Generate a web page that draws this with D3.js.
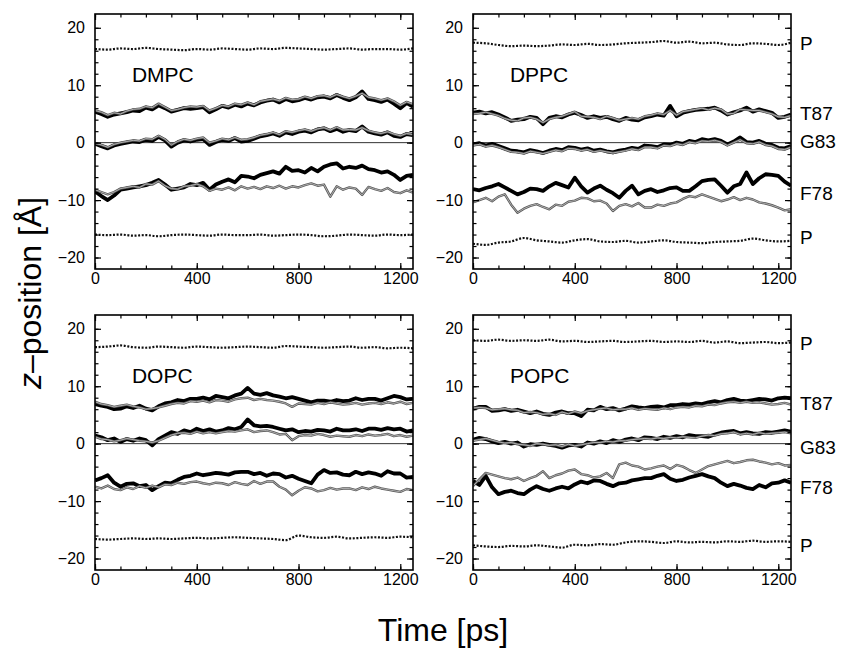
<!DOCTYPE html>
<html><head><meta charset="utf-8">
<script src="https://cdn.jsdelivr.net/npm/d3@7"></script>
<style>body{margin:0;background:#fff}svg{display:block}</style>
</head><body><svg id="c" width="846" height="648"></svg>
<script>
// ---------- data (z-position in Å, every 25 ps for residues, every 50 ps for P) ----------
const times = d3.range(0, 1251, 25);
const timesP = d3.range(0, 1251, 50);
const xTickLabels = [0, 400, 800, 1200];
const yTickLabels = [-20, -10, 0, 10, 20];
const panelNames = ["DMPC", "DPPC", "DOPC", "POPC"];
const rightLabels = ["P", "T87", "G83", "F78", "P"];

// DMPC
const dmpcPtop = [16.3,16.2,16.4,16.3,16.5,16.3,16.2,16.1,16.3,16.2,16.4,16.3,16.2,16.4,16.3,16.5,16.4,16.3,16.2,16.3,16.4,16.2,16.3,16.3,16.2,16.4];
const dmpcPbot = [-16.0,-16.1,-16.0,-16.2,-16.1,-16.3,-16.1,-16.0,-16.1,-16.2,-16.0,-16.1,-16.1,-16.0,-16.2,-16.1,-16.0,-16.1,-16.3,-16.2,-16.0,-16.1,-16.2,-16.0,-16.1,-16.0];
const dmpcT87 = [5.4,5.0,4.5,4.9,5.1,5.3,5.6,5.5,6.1,5.8,6.5,6.0,5.4,5.7,6.0,5.9,6.0,6.2,5.3,5.8,6.4,6.1,6.6,6.3,6.8,6.5,7.0,7.3,7.5,7.0,7.6,7.2,7.4,7.8,7.5,7.9,8.0,7.7,8.3,7.8,7.4,7.9,8.9,7.6,7.4,7.1,7.5,6.8,6.0,6.9,6.3];
const dmpcT87g = [5.6,5.3,4.8,5.2,5.0,5.5,5.8,5.9,6.3,6.1,6.8,6.2,5.6,5.8,6.1,6.3,6.2,6.4,5.6,6.0,6.5,6.3,6.8,6.6,7.0,6.6,7.2,7.4,7.6,7.3,7.8,7.5,7.6,8.0,7.7,8.1,8.2,7.9,8.4,8.0,7.7,8.1,8.6,7.9,7.7,7.4,7.7,7.2,6.5,7.1,6.7];
const dmpcG83 = [-0.2,-0.6,-1.0,-0.5,-0.2,0.0,0.2,0.1,0.5,0.3,1.0,0.4,-0.7,0.0,0.4,0.2,0.5,0.6,-0.4,0.1,0.5,0.3,0.8,0.2,0.3,0.7,1.1,1.3,1.6,1.2,1.8,1.5,1.9,2.1,1.8,2.3,2.5,2.0,2.4,1.9,2.2,2.0,2.8,1.9,1.6,1.4,1.8,1.2,1.0,1.5,1.3];
const dmpcG83g = [-0.1,-0.4,-0.8,-0.3,0.0,0.2,0.4,0.3,0.7,0.6,1.2,0.6,-0.4,0.2,0.6,0.4,0.7,0.9,0.0,0.3,0.7,0.5,0.9,0.5,0.6,0.9,1.3,1.5,1.8,1.4,2.0,1.8,2.1,2.3,2.0,2.4,2.6,2.2,2.7,2.2,2.3,2.2,2.6,2.1,1.8,1.6,1.9,1.5,1.2,1.6,1.4];
const dmpcF78 = [-8.5,-9.3,-10.0,-9.2,-8.2,-8.0,-7.8,-7.6,-7.4,-7.0,-6.5,-7.3,-8.2,-8.0,-7.8,-7.2,-7.4,-7.0,-8.2,-7.3,-6.8,-6.4,-6.9,-5.8,-5.9,-6.2,-5.6,-5.3,-5.0,-5.4,-4.2,-4.9,-4.8,-5.2,-4.4,-5.0,-4.2,-3.8,-3.6,-4.5,-4.2,-4.4,-4.0,-4.6,-4.8,-5.2,-5.0,-5.6,-6.5,-5.8,-5.6];
const dmpcF78g = [-8.2,-8.6,-9.0,-8.6,-8.0,-7.8,-7.6,-7.8,-7.2,-7.3,-6.7,-7.5,-8.0,-8.1,-7.6,-7.5,-7.2,-7.6,-8.4,-8.0,-8.2,-7.8,-8.3,-7.6,-8.0,-7.7,-8.1,-7.6,-7.9,-7.5,-8.0,-7.6,-7.8,-7.4,-7.1,-7.5,-7.3,-9.4,-7.6,-8.2,-7.8,-8.0,-9.1,-7.7,-8.1,-8.4,-7.9,-8.6,-8.8,-8.3,-8.7];
// DPPC
const dppcPtop = [17.4,17.3,17.0,16.8,16.9,16.8,16.9,17.1,17.0,17.2,17.0,17.1,17.3,17.4,17.5,17.7,17.4,17.6,17.3,17.4,17.1,17.0,17.3,17.2,17.0,17.4];
const dppcPbot = [-17.6,-17.8,-17.4,-17.2,-16.6,-17.0,-17.2,-17.4,-17.0,-16.8,-17.2,-17.3,-17.1,-17.4,-17.2,-17.0,-17.3,-17.4,-17.5,-17.3,-17.2,-17.1,-16.7,-17.0,-17.2,-17.1];
const dppcT87 = [5.2,5.4,5.1,5.3,4.9,4.4,3.8,4.0,4.1,4.5,4.3,3.2,4.3,4.6,4.4,4.9,5.2,4.8,4.3,4.6,4.3,4.5,4.1,3.8,4.3,4.0,3.9,4.4,4.6,4.9,4.7,6.4,4.6,5.2,5.5,5.7,5.8,5.9,6.1,5.6,4.9,5.3,5.6,6.1,5.4,5.8,5.5,5.2,4.3,4.5,4.9];
const dppcT87g = [5.0,5.1,5.3,5.0,4.7,4.2,3.9,3.8,4.3,4.4,4.1,3.5,4.1,4.4,4.6,5.0,5.4,4.6,4.5,4.4,4.1,4.6,4.3,3.9,4.1,4.3,4.1,4.6,4.8,5.1,4.9,5.6,4.8,5.4,5.6,5.8,6.0,5.7,6.0,5.8,5.0,5.1,5.8,5.7,5.6,5.6,5.3,5.0,4.5,4.4,4.7];
const dppcG83 = [-0.3,-0.1,-0.5,-0.2,-0.6,-1.0,-1.4,-1.5,-1.7,-1.3,-1.5,-1.8,-1.4,-1.1,-1.3,-0.8,-0.9,-1.2,-1.0,-1.4,-1.2,-1.5,-1.7,-1.4,-1.2,-0.9,-1.1,-0.5,-0.6,-0.8,-0.3,-0.4,0.0,-0.2,0.3,0.1,0.6,0.4,0.6,0.3,-0.3,0.2,0.9,0.1,0.0,0.3,-0.2,-0.4,-0.9,-1.0,-0.6];
const dppcG83g = [-0.5,-0.3,-0.7,-0.5,-0.8,-1.2,-1.6,-1.7,-1.9,-1.5,-1.7,-1.9,-1.6,-1.3,-1.5,-1.0,-1.1,-1.4,-1.2,-1.6,-1.4,-1.6,-1.8,-1.6,-1.4,-1.1,-1.3,-0.8,-0.8,-1.0,-0.5,-0.6,-0.2,-0.4,0.1,-0.1,0.3,0.2,0.4,0.1,-0.5,0.0,0.5,-0.1,-0.2,0.1,-0.4,-0.6,-1.1,-1.2,-0.8];
const dppcF78 = [-8.1,-8.3,-7.9,-7.6,-7.2,-7.8,-8.4,-9.0,-8.6,-8.0,-8.1,-8.4,-7.6,-7.0,-7.4,-7.8,-6.1,-7.6,-8.7,-8.0,-7.5,-8.2,-8.8,-9.6,-8.4,-7.5,-9.0,-8.4,-8.1,-8.6,-8.3,-7.9,-7.8,-8.4,-8.4,-7.6,-6.7,-6.5,-6.4,-7.5,-8.7,-7.6,-7.2,-5.2,-7.2,-6.2,-5.5,-5.6,-5.8,-6.8,-7.5];
const dppcF78g = [-10.4,-10.0,-9.6,-10.2,-9.4,-9.0,-10.8,-12.2,-11.5,-11.0,-10.7,-11.2,-11.6,-10.8,-11.0,-10.3,-10.1,-9.6,-9.7,-10.2,-10.1,-10.6,-11.9,-11.0,-10.7,-11.1,-10.5,-11.3,-11.3,-10.8,-11.0,-10.6,-10.4,-9.8,-9.3,-9.5,-9.0,-9.4,-9.8,-10.2,-9.9,-9.5,-10.0,-9.6,-9.9,-10.4,-10.6,-10.9,-11.3,-11.8,-11.6];
// DOPC
const dopcPtop = [16.8,16.9,17.1,16.8,16.7,16.9,16.8,16.7,16.9,16.8,16.7,16.8,16.9,16.8,16.7,17.0,16.9,16.8,16.7,16.8,16.9,16.7,16.8,16.6,16.7,16.6];
const dopcPbot = [-16.6,-16.7,-16.6,-16.5,-16.6,-16.5,-16.6,-16.5,-16.4,-16.5,-16.4,-16.3,-16.4,-16.5,-16.6,-16.8,-16.0,-16.3,-16.4,-16.2,-16.5,-16.4,-16.3,-16.4,-16.2,-16.3];
const dopcT87 = [6.9,6.6,6.4,6.0,6.1,6.5,6.2,6.6,6.1,5.8,6.5,7.0,7.2,7.6,7.4,7.8,7.8,8.0,7.7,8.3,8.1,7.9,8.4,8.7,9.7,8.7,8.5,8.8,8.4,8.2,7.9,8.1,7.8,7.5,7.2,7.5,7.5,7.3,7.6,7.4,7.5,7.9,7.6,7.8,7.8,7.5,7.9,8.3,8.1,7.7,7.8];
const dopcT87g = [7.3,6.9,6.7,6.4,6.6,6.8,6.5,6.3,6.0,6.1,6.3,6.6,6.9,7.1,7.0,7.4,7.3,7.5,7.2,7.6,7.5,7.3,7.7,7.9,8.0,7.6,7.8,7.6,7.5,7.3,7.0,6.4,7.0,6.9,6.8,7.1,6.9,7.2,7.0,6.8,6.9,7.1,6.8,7.0,7.1,6.9,7.2,7.0,7.3,6.9,7.1];
const dopcG83 = [1.4,1.1,0.6,0.9,0.3,0.8,0.5,0.9,0.6,-0.3,0.8,1.4,2.0,1.7,2.3,2.0,2.6,2.2,2.5,2.1,2.3,2.7,2.5,2.9,4.2,3.2,3.0,3.1,2.9,2.6,2.3,2.5,2.0,2.2,2.1,2.4,2.3,2.1,2.6,2.3,2.3,2.5,2.2,2.6,2.6,2.4,2.7,2.5,2.6,2.1,2.3];
const dopcG83g = [1.2,0.8,0.7,0.4,0.6,0.9,0.7,0.5,0.4,0.2,0.5,1.0,1.5,1.8,1.9,1.7,2.1,1.8,2.0,1.8,2.0,2.2,2.1,2.3,2.5,2.0,2.2,2.3,2.0,1.6,1.7,0.6,1.3,1.5,1.4,1.7,1.5,1.2,1.4,1.3,1.2,1.5,1.3,1.6,1.4,1.5,1.7,1.3,1.5,1.2,1.4];
const dopcF78 = [-6.4,-6.0,-5.5,-6.8,-7.5,-7.0,-6.9,-7.4,-7.2,-8.1,-7.4,-6.8,-6.9,-6.3,-5.8,-5.6,-5.2,-5.5,-5.3,-5.1,-5.2,-5.4,-5.0,-4.9,-4.9,-5.3,-5.1,-5.6,-5.2,-5.3,-5.9,-5.6,-6.1,-6.5,-6.9,-5.4,-4.6,-5.1,-5.0,-5.4,-5.5,-4.9,-5.3,-5.0,-5.2,-5.6,-4.8,-5.2,-5.2,-5.9,-5.8];
const dopcF78g = [-7.5,-7.8,-7.3,-7.9,-8.1,-7.6,-7.9,-7.4,-7.7,-7.3,-7.6,-7.1,-7.2,-6.8,-7.0,-6.7,-6.6,-6.9,-7.1,-6.8,-6.9,-7.2,-6.7,-7.0,-7.2,-6.5,-7.0,-6.6,-6.6,-7.5,-8.0,-9.0,-8.2,-7.6,-7.8,-8.3,-8.1,-7.7,-8.0,-7.8,-7.8,-8.1,-7.6,-7.9,-7.5,-7.8,-8.0,-8.2,-8.4,-7.9,-8.1];
// POPC
const popcPtop = [18.0,17.9,18.1,17.9,18.0,17.9,18.1,17.8,17.9,17.7,17.8,17.9,17.7,17.8,17.9,17.7,17.8,17.7,17.9,17.6,17.8,17.5,17.6,17.7,17.5,17.6];
const popcPbot = [-17.7,-17.9,-18.0,-17.8,-17.9,-17.7,-17.9,-18.1,-17.6,-17.7,-17.5,-17.6,-17.2,-17.0,-17.1,-17.3,-17.0,-17.2,-17.1,-17.2,-17.0,-17.1,-16.9,-17.1,-17.0,-17.1];
const popcT87 = [6.1,6.4,6.4,5.7,5.8,6.0,5.7,5.9,5.6,5.3,5.6,5.2,5.0,5.4,5.6,5.3,5.3,4.8,5.9,5.8,6.4,6.0,6.2,5.8,6.1,6.5,6.3,6.2,6.4,6.5,6.3,6.7,6.7,6.9,6.8,7.0,6.9,7.2,7.4,7.2,7.6,7.8,7.5,7.4,7.6,7.8,7.7,7.5,7.9,8.0,7.9];
const popcT87g = [6.2,6.3,6.2,5.9,6.0,6.1,5.9,5.8,5.4,5.5,5.4,5.1,5.2,5.0,5.5,5.2,5.6,5.3,5.7,5.9,6.1,6.2,5.9,6.0,6.0,6.2,5.9,6.1,6.0,5.9,6.2,6.0,6.3,6.4,6.3,6.6,6.5,6.8,6.7,7.0,7.2,7.3,7.1,7.3,7.1,7.2,7.0,6.8,6.9,7.1,6.8];
const popcG83 = [0.7,1.0,0.8,0.4,0.1,0.3,0.0,0.2,-0.5,-0.1,-0.2,0.0,-0.2,-0.4,-0.7,-0.3,-0.2,-0.5,0.2,0.0,0.4,0.1,0.6,0.3,0.7,0.9,0.6,1.1,1.0,0.8,1.2,1.0,1.3,1.1,1.5,1.3,1.3,1.2,1.6,1.9,2.1,2.2,1.8,2.0,1.8,1.7,2.0,1.9,2.1,2.3,2.1];
const popcG83g = [0.5,0.7,0.9,0.6,0.3,0.1,0.2,-0.1,-0.2,-0.4,0.0,-0.1,-0.3,-0.2,-0.5,-0.1,-0.4,-0.2,0.0,0.2,0.2,0.4,0.3,0.5,0.5,0.7,0.8,0.9,0.8,1.0,0.9,1.1,1.0,1.2,1.1,1.0,1.3,1.5,1.4,1.7,1.8,2.0,1.6,1.8,1.6,1.9,1.7,1.8,1.9,2.0,1.8];
const popcF78 = [-6.5,-7.2,-5.6,-7.6,-8.8,-8.4,-8.2,-8.6,-8.8,-8.0,-7.4,-7.9,-8.2,-7.8,-7.5,-7.8,-7.1,-6.6,-6.9,-6.4,-6.5,-7.0,-7.4,-6.9,-6.8,-6.4,-6.2,-6.0,-6.0,-5.6,-5.3,-6.1,-6.5,-6.3,-5.9,-5.6,-5.3,-5.7,-6.0,-6.8,-7.4,-7.0,-7.3,-7.7,-7.9,-7.2,-7.6,-6.9,-6.8,-6.4,-6.8];
const popcF78g = [-7.4,-6.2,-5.1,-5.4,-5.7,-6.0,-6.2,-5.9,-6.5,-6.0,-5.6,-4.8,-6.0,-5.5,-5.2,-4.7,-4.5,-5.3,-5.5,-5.9,-5.7,-5.1,-6.0,-3.6,-3.3,-3.8,-4.0,-4.5,-4.3,-4.0,-3.8,-4.4,-3.7,-4.0,-4.6,-5.1,-4.5,-3.9,-3.6,-3.3,-3.0,-3.4,-3.2,-2.9,-2.8,-3.1,-3.3,-3.6,-3.4,-3.8,-3.7];

// label value positions (data units) for right-hand labels
const rightLabelValsTop = [17.4, 5.2, 0.2, -8.8, -16.5];
const rightLabelValsBot = [17.5, 7.1, -0.6, -7.5, -17.7];

// ---------- layout ----------
const panels = [
  {name: panelNames[0], x0: 95,  y0: 14,  P: [dmpcPtop, dmpcPbot], black: [dmpcT87, dmpcG83, dmpcF78], gray: [dmpcT87g, dmpcG83g, dmpcF78g], right: null},
  {name: panelNames[1], x0: 473, y0: 14,  P: [dppcPtop, dppcPbot], black: [dppcT87, dppcG83, dppcF78], gray: [dppcT87g, dppcG83g, dppcF78g], right: rightLabelValsTop},
  {name: panelNames[2], x0: 95,  y0: 315, P: [dopcPtop, dopcPbot], black: [dopcT87, dopcG83, dopcF78], gray: [dopcT87g, dopcG83g, dopcF78g], right: null},
  {name: panelNames[3], x0: 473, y0: 315, P: [popcPtop, popcPbot], black: [popcT87, popcG83, popcF78], gray: [popcT87g, popcG83g, popcF78g], right: rightLabelValsBot}
];
const PW = 318, PH = 255;
const FONT = "'Liberation Sans', Arial, Helvetica, sans-serif";
const svg = d3.select("#c");

panels.forEach(p => {
  const x = d3.scaleLinear().domain([0, 1250]).range([p.x0, p.x0 + PW]);
  const y = d3.scaleLinear().domain([-22, 22.4]).range([p.y0 + PH, p.y0]);
  const g = svg.append("g");
  const clipId = "clip" + p.name;
  svg.append("clipPath").attr("id", clipId).append("rect")
    .attr("x", p.x0).attr("y", p.y0).attr("width", PW).attr("height", PH);
  const plot = g.append("g").attr("clip-path", `url(#${clipId})`);

  // zero line
  plot.append("line").attr("x1", x(0)).attr("x2", x(1250)).attr("y1", y(0)).attr("y2", y(0))
    .attr("stroke", "#333").attr("stroke-width", 1);

  const line = d3.line().x((d, i) => x(times[i])).y(d => y(d)).curve(d3.curveLinear);
  const lineP = d3.line().x((d, i) => x(timesP[i])).y(d => y(d)).curve(d3.curveMonotoneX);

  // phosphate dotted lines
  p.P.forEach(s => {
    plot.append("path").attr("d", lineP(s)).attr("fill", "none")
      .attr("stroke", "#111").attr("stroke-width", 2.2).attr("stroke-dasharray", "2,1.6");
  });
  // black thick
  p.black.forEach(s => {
    plot.append("path").attr("d", line(s)).attr("fill", "none")
      .attr("stroke", "#000").attr("stroke-width", 3.8).attr("stroke-linejoin", "round");
  });
  // gray hollow-ish thin lines
  p.gray.forEach(s => {
    plot.append("path").attr("d", line(s)).attr("fill", "none")
      .attr("stroke", "#585858").attr("stroke-width", 2.4).attr("stroke-linejoin", "round");
    plot.append("path").attr("d", line(s)).attr("fill", "none")
      .attr("stroke", "#c4c4c4").attr("stroke-width", 0.8).attr("stroke-linejoin", "round");
  });

  // axes (ticks pointing inward on all four sides)
  const styleAxis = sel => {
    sel.select(".domain").remove();
    sel.selectAll("line").attr("stroke", "#000").attr("stroke-width", 1.2);
    sel.selectAll("text").attr("font-family", FONT).attr("font-size", 16).attr("fill", "#000");
  };
  const minorX = d3.range(0, 1251, 100), minorY = d3.range(-20, 21, 2);
  // bottom
  g.append("g").attr("transform", `translate(0,${p.y0 + PH})`)
    .call(d3.axisBottom(x).tickValues(minorX).tickSize(-3.5).tickFormat("")).call(styleAxis);
  g.append("g").attr("transform", `translate(0,${p.y0 + PH})`)
    .call(d3.axisBottom(x).tickValues(xTickLabels).tickSize(-6).tickPadding(4).tickFormat(d3.format("d"))).call(styleAxis);
  // top
  g.append("g").attr("transform", `translate(0,${p.y0})`)
    .call(d3.axisTop(x).tickValues(minorX).tickSize(-3.5).tickFormat("")).call(styleAxis);
  g.append("g").attr("transform", `translate(0,${p.y0})`)
    .call(d3.axisTop(x).tickValues(xTickLabels).tickSize(-6).tickFormat("")).call(styleAxis);
  // left
  g.append("g").attr("transform", `translate(${p.x0},0)`)
    .call(d3.axisLeft(y).tickValues(minorY).tickSize(-3.5).tickFormat("")).call(styleAxis);
  g.append("g").attr("transform", `translate(${p.x0},0)`)
    .call(d3.axisLeft(y).tickValues(yTickLabels).tickSize(-6).tickPadding(10)
      .tickFormat(d => d < 0 ? "\u2212" + Math.abs(d) : d)).call(styleAxis);
  // right
  g.append("g").attr("transform", `translate(${p.x0 + PW},0)`)
    .call(d3.axisRight(y).tickValues(minorY).tickSize(-3.5).tickFormat("")).call(styleAxis);
  g.append("g").attr("transform", `translate(${p.x0 + PW},0)`)
    .call(d3.axisRight(y).tickValues(yTickLabels).tickSize(-6).tickFormat("")).call(styleAxis);

  // frame
  g.append("rect").attr("x", p.x0).attr("y", p.y0).attr("width", PW).attr("height", PH)
    .attr("fill", "none").attr("stroke", "#000").attr("stroke-width", 1.6);

  // panel name
  g.append("text").attr("x", x(145)).attr("y", y(10.6))
    .attr("font-family", FONT).attr("font-size", 21).text(p.name);

  // right labels
  if (p.right) {
    p.right.forEach((v, i) => {
      g.append("text").attr("x", p.x0 + PW + 9).attr("y", y(v)).attr("dy", "0.36em")
        .attr("font-family", FONT).attr("font-size", 19).text(rightLabels[i]);
    });
  }
});

// axis titles
svg.append("text").attr("x", 443).attr("y", 641).attr("text-anchor", "middle")
  .attr("font-family", FONT).attr("font-size", 32).text("Time [ps]");
const yt = svg.append("text").attr("transform", "translate(41,293) rotate(-90)")
  .attr("text-anchor", "middle").attr("font-family", FONT).attr("font-size", 32);
yt.append("tspan").attr("font-style", "italic").text("z");
yt.append("tspan").text("\u2013position [\u00C5]");
</script></body></html>
